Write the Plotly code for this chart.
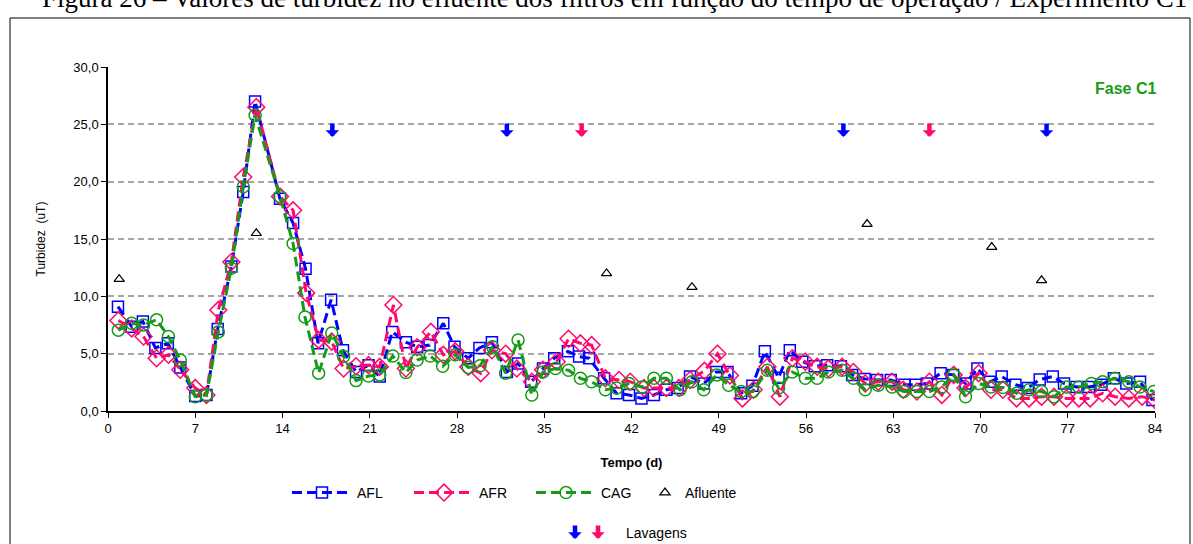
import plotly.graph_objects as go

# ---------------- data ----------------
afl_days = [0.8, 1.9, 2.8, 3.8, 4.8, 5.8, 7.0, 7.9, 8.8, 9.9, 10.85, 11.8, 13.8, 14.85, 15.85, 16.85,
            17.9, 18.85, 19.9, 20.9, 21.8, 22.8, 23.9, 24.8, 25.8, 26.9, 27.8, 28.9, 29.8, 30.8, 32.0,
            32.9, 33.95, 34.9, 35.8, 36.9, 37.8, 38.6, 39.8, 40.8, 41.8, 42.8, 43.8, 44.8, 45.7, 46.7,
            47.8, 48.8, 49.7, 50.8, 51.7, 52.7, 53.8, 54.7, 55.7, 56.7, 57.7, 58.8, 59.7, 60.7, 61.7,
            62.8, 63.9, 64.8, 65.7, 66.8, 67.8, 68.8, 69.75, 70.75, 71.7, 72.8, 73.8, 74.75, 75.8, 76.7,
            77.7, 78.7, 79.7, 80.7, 81.7, 82.8, 83.8]
afl_vals = [9.1, 7.35, 7.8, 5.5, 5.9, 3.8, 1.3, 1.4, 7.15, 12.6, 19.1, 27.0, 18.5, 16.4, 12.4, 5.9,
            9.7, 5.3, 3.4, 4.0, 3.0, 6.9, 6.0, 5.6, 5.75, 7.65, 5.6, 4.6, 5.5, 6.0, 3.4,
            4.15, 2.55, 3.7, 4.6, 5.2, 4.75, 4.6, 2.85, 1.55, 1.4, 1.1, 1.4, 1.85, 2.0, 3.0,
            2.4, 3.4, 3.4, 1.55, 2.2, 5.2, 2.9, 5.3, 4.3, 3.9, 4.0, 3.9, 3.15, 2.8, 2.7,
            2.7, 2.3, 2.3, 2.4, 3.3, 3.15, 2.4, 3.7, 2.55, 3.0, 2.3, 2.0, 2.75, 3.0, 2.4,
            2.1, 2.1, 2.3, 2.85, 2.4, 2.55, 0.95]

afr_days = [0.83, 1.9, 2.85, 3.9, 4.85, 5.8, 7.0, 7.9, 8.85, 9.9, 10.85, 11.9, 13.8, 14.85, 15.9, 16.9,
            17.95, 18.9, 19.9, 20.9, 21.8, 22.9, 23.9, 24.8, 25.9, 26.9, 27.85, 28.9, 29.9, 30.8, 31.9,
            32.8, 34.0, 34.9, 36.0, 36.95, 37.9, 38.8, 39.9, 41.0, 41.9, 43.0, 43.8, 44.8, 45.8, 46.7,
            47.85, 48.9, 49.9, 50.9, 51.8, 52.9, 53.9, 54.9, 55.95, 56.9, 57.8, 58.9, 59.8, 60.75, 61.8,
            62.9, 63.8, 64.9, 65.9, 66.9, 67.85, 68.8, 69.85, 70.85, 71.8, 72.9, 73.9, 74.9, 75.9, 76.9,
            77.9, 78.8, 79.8, 80.8, 81.9, 82.97, 84.0]
afr_vals = [7.9, 7.2, 6.5, 4.6, 4.9, 3.6, 2.0, 1.4, 8.8, 13.0, 20.4, 26.5, 18.7, 17.5, 10.3, 6.2,
            6.05, 3.7, 3.9, 4.0, 3.85, 9.25, 3.7, 5.55, 6.9, 4.9, 5.2, 3.85, 3.3, 5.3, 5.0,
            3.7, 2.55, 3.6, 4.3, 6.3, 5.9, 5.75, 2.85, 2.7, 2.55, 2.0, 2.0, 2.0, 2.0, 2.7,
            3.5, 5.0, 3.1, 1.1, 1.85, 3.85, 1.25, 4.6, 4.3, 3.85, 3.7, 3.85, 3.4, 2.4, 2.55,
            2.55, 1.85, 1.7, 2.55, 1.4, 3.15, 2.0, 3.3, 1.85, 1.85, 1.1, 1.1, 1.25, 1.25, 1.1,
            1.1, 1.1, 1.55, 1.25, 1.1, 1.25, 0.95]

cag_days = [0.83, 1.9, 2.85, 3.9, 4.85, 5.8, 7.0, 7.9, 8.85, 9.9, 10.85, 11.8, 13.8, 14.85, 15.8, 16.9,
            17.95, 18.9, 19.9, 20.9, 21.8, 22.85, 23.9, 24.8, 25.85, 26.85, 27.85, 28.9, 29.85, 30.85, 31.9,
            32.9, 34.0, 34.9, 35.9, 36.95, 37.9, 38.8, 39.9, 40.8, 41.8, 42.85, 43.8, 44.8, 45.9, 46.85,
            47.8, 48.85, 49.8, 50.8, 51.75, 52.9, 53.8, 54.9, 55.95, 56.9, 57.8, 58.9, 59.8, 60.75, 61.8,
            62.9, 63.85, 64.9, 65.9, 66.9, 67.85, 68.8, 69.85, 70.85, 71.8, 72.9, 73.9, 74.9, 75.9, 76.9,
            77.9, 78.9, 79.8, 80.8, 81.9, 82.8, 83.9]
cag_vals = [7.05, 7.65, 7.5, 7.95, 6.5, 4.45, 1.25, 1.4, 6.9, 12.45, 19.55, 25.8, 18.7, 14.6, 8.2, 3.3,
            6.8, 4.75, 2.65, 3.05, 3.15, 4.8, 3.35, 4.45, 4.8, 3.9, 4.9, 3.8, 3.95, 5.6, 3.3,
            6.2, 1.4, 3.4, 3.7, 3.55, 2.85, 2.55, 1.85, 2.0, 2.4, 2.1, 2.85, 2.85, 1.85, 2.55,
            1.85, 3.15, 2.25, 1.7, 1.7, 3.55, 2.0, 3.4, 2.85, 2.85, 3.4, 3.55, 2.85, 1.85, 2.25,
            2.1, 1.7, 1.7, 1.7, 2.1, 3.15, 1.25, 2.4, 2.1, 2.05, 1.55, 1.85, 1.7, 1.25, 2.1,
            2.1, 2.4, 2.55, 2.85, 2.55, 2.1, 1.7]

afl_in_days = [0.9, 11.9, 40.0, 46.85, 60.9, 70.9, 74.9]
afl_in_vals = [11.5, 15.5, 12.0, 10.8, 16.3, 14.3, 11.4]

wash_afl_days = [18.0, 32.0, 59.0, 75.3]
wash_afr_days = [38.0, 65.9]
ARROW_LEVEL = 23.9

x_ticks = [0, 7, 14, 21, 28, 35, 42, 49, 56, 63, 70, 77, 84]
y_ticks = [0, 5, 10, 15, 20, 25, 30]

TITLE = "Figura 26 – Valores de turbidez no efluente dos filtros em função do tempo de operação / Experimento C1"

# ---------------- styles ----------------
BLUE = "#0000ff"
PINK = "#ff0a6c"
GREEN = "#169b16"
W, H = 1193, 544
L, R, T, B = 108, 38, 67, 133
pw, ph = W - L - R, H - T - B


def px_x(p):
    return (p - L) / pw


def px_y(p):
    return (H - B - p) / ph


DASH = "10px,5px"
FONT = "Liberation Sans, Arial, sans-serif"

fig = go.Figure()
fig.add_trace(go.Scatter(x=afl_days, y=afl_vals, name="AFL", mode="lines+markers",
                         line=dict(color=BLUE, width=3, dash=DASH),
                         marker=dict(symbol="square-open", size=11, color=BLUE, line=dict(width=1.5, color=BLUE))))
fig.add_trace(go.Scatter(x=afr_days, y=afr_vals, name="AFR", mode="lines+markers",
                         line=dict(color=PINK, width=3, dash=DASH),
                         marker=dict(symbol="diamond-open", size=13, color=PINK, line=dict(width=1.5, color=PINK))))
fig.add_trace(go.Scatter(x=cag_days, y=cag_vals, name="CAG", mode="lines+markers",
                         line=dict(color=GREEN, width=3, dash=DASH),
                         marker=dict(symbol="circle-open", size=12, color=GREEN, line=dict(width=1.5, color=GREEN))))
fig.add_trace(go.Scatter(x=afl_in_days, y=afl_in_vals, name="Afluente", mode="markers", legend="legend2",
                         marker=dict(symbol="triangle-up-open", size=9, color="#000000", line=dict(width=1.2))))

ARW = dict(showarrow=True, ax=0, ay=-15, arrowwidth=4.5, arrowhead=1, arrowsize=0.5, text="")
annotations = []
for d in wash_afl_days:
    annotations.append(dict(x=d, y=ARROW_LEVEL, xref="x", yref="y", arrowcolor=BLUE, **ARW))
for d in wash_afr_days:
    annotations.append(dict(x=d, y=ARROW_LEVEL, xref="x", yref="y", arrowcolor=PINK, **ARW))

# Lavagens legend row
annotations.append(dict(x=px_x(575), y=px_y(539), xref="paper", yref="paper", arrowcolor=BLUE, **ARW))
annotations.append(dict(x=px_x(598), y=px_y(539), xref="paper", yref="paper", arrowcolor=PINK, **ARW))
annotations.append(dict(x=px_x(624), y=px_y(533), xref="paper", yref="paper", text="Lavagens",
                        showarrow=False, xanchor="left", yanchor="middle",
                        font=dict(family=FONT, size=14, color="#000000")))
# Fase C1
annotations.append(dict(x=px_x(1158), y=px_y(88), xref="paper", yref="paper", text="<b>Fase C1</b>",
                        showarrow=False, xanchor="right", yanchor="middle",
                        font=dict(family=FONT, size=16, color=GREEN)))
# Title (cropped at top, as in the source page)
annotations.append(dict(x=px_x(614), y=px_y(15), xref="paper", yref="paper", text=TITLE,
                        showarrow=False, xanchor="center", yanchor="bottom",
                        font=dict(family="Liberation Serif, Times New Roman, serif", size=27, color="#000000")))

fig.update_layout(
    width=W, height=H,
    margin=dict(l=L, r=R, t=T, b=B),
    paper_bgcolor="#ffffff", plot_bgcolor="#ffffff",
    separators=", ",
    font=dict(family=FONT, size=13, color="#000000"),
    showlegend=True,
    legend=dict(orientation="h", x=px_x(287), y=px_y(493), xanchor="left", yanchor="middle",
                font=dict(family=FONT, size=14), entrywidth=47, entrywidthmode="pixels",
                bgcolor="rgba(0,0,0,0)", itemwidth=60),
    legend2=dict(orientation="h", x=px_x(645), y=px_y(493), xanchor="left", yanchor="middle",
                 font=dict(family=FONT, size=14), bgcolor="rgba(0,0,0,0)", itemwidth=30),
    annotations=annotations,
    shapes=[dict(type="rect", xref="paper", yref="paper", x0=px_x(10), x1=px_x(1190),
                 y0=px_y(600), y1=px_y(18), line=dict(color="#000000", width=1), layer="below")],
)
fig.update_xaxes(range=[0, 84], tickvals=x_ticks, ticktext=[str(t) for t in x_ticks],
                 showgrid=False, zeroline=False, showline=True, linecolor="#000000", linewidth=1.5,
                 ticks="outside", ticklen=5, tickcolor="#000000", tickfont=dict(size=13),
                 title=dict(text="<b>Tempo (d)</b>", font=dict(size=13), standoff=23))
fig.update_yaxes(range=[0, 30], tickvals=y_ticks, tickformat=".1f",
                 showgrid=True, gridcolor="#a6a6a6", griddash="6px,4px", gridwidth=1.5,
                 zeroline=False, showline=True, linecolor="#000000", linewidth=1.5,
                 ticks="outside", ticklen=5, tickcolor="#000000", tickfont=dict(size=13),
                 title=dict(text="Turbidez  (uT)", font=dict(size=12), standoff=25))

fig.write_html("out.html")
